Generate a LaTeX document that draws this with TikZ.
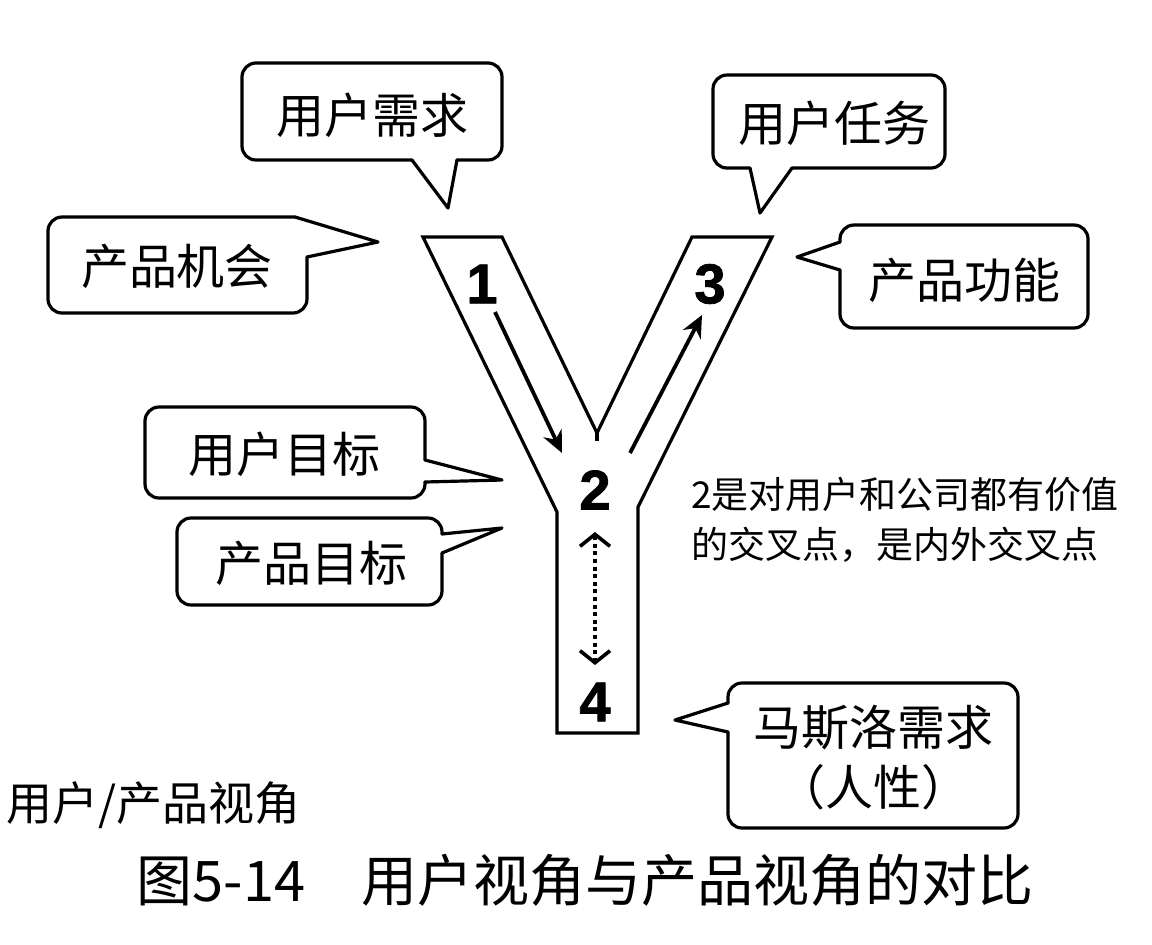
\documentclass[tikz,border=0pt]{standalone}
\usepackage{fontspec}
\setmainfont{Liberation Sans}
\newfontfamily\cjk{Noto Sans CJK SC}
\newfontfamily\numfont[FakeBold=1.5]{Liberation Sans Bold}
\usetikzlibrary{arrows.meta,calc}

\tikzset{every picture/.style={line width=1.6pt}}
\tikzset{
  bubble/.style={line width=1.6pt, line cap=round, line join=round},
  bubbletext/.style={inner sep=0.75pt, font=\cjk\fontsize{24}{30}\selectfont},
  num/.style={inner sep=0.75pt, font=\numfont\fontsize{28}{32}\selectfont},
  flow/.style={line width=1.9pt, -{Stealth[length=11pt,width=10pt]}},
  link/.style={line width=2.2pt, dash pattern=on 2pt off 1.8pt, {Straight Barb[length=6pt,width=15pt,line width=1.8pt]}-{Straight Barb[length=6pt,width=15pt,line width=1.8pt]}},
}

\begin{document}
\begin{tikzpicture}[x=0.5pt,y=0.5pt,yscale=-1,xscale=1]
\useasboundingbox (0,0) rectangle (1152,944);

%Shape: Y [id:y]
\draw [line join=miter] (423,237) -- (502,237) -- (597,433) -- (692,237) -- (772,237) -- (638,507) -- (638,733) -- (557,733) -- (557,512) -- cycle ;
\draw (597,433) -- (597,441) ;

%Shape: Callout [id:need]
\draw [bubble, rounded corners=7pt] (412,160) -- (242,160) -- (242,63) -- (502,63) -- (502,160) -- (457,160) ;
\draw [bubble] (457,160) -- (448,208) -- (412,160) ;
%Shape: Callout [id:chance]
\draw [bubble, rounded corners=7pt] (295,217) -- (48,217) -- (48,313) -- (307,313) -- (307,257) ;
\draw [bubble] (307,257) -- (378,242) -- (295,217) ;
%Shape: Callout [id:task]
\draw [bubble, rounded corners=7pt] (750,168) -- (713,168) -- (713,75) -- (945,75) -- (945,168) -- (792,168) ;
\draw [bubble] (792,168) -- (760,213) -- (750,168) ;
%Shape: Callout [id:func]
\draw [bubble, rounded corners=7pt] (840,270) -- (840,328) -- (1088,328) -- (1088,225) -- (840,225) -- (840,242) ;
\draw [bubble] (840,242) -- (797,257) -- (840,270) ;
%Shape: Callout [id:ugoal]
\draw [bubble, rounded corners=7pt] (425,460) -- (425,407) -- (145,407) -- (145,498) -- (425,498) -- (425,482) ;
\draw [bubble] (425,482) -- (502,480) -- (425,460) ;
%Shape: Callout [id:pgoal]
\draw [bubble, rounded corners=7pt] (442,553) -- (442,605) -- (177,605) -- (177,518) -- (442,518) -- (442,534) ;
\draw [bubble] (442,534) -- (502,528) -- (442,553) ;
%Shape: Callout [id:maslow]
\draw [bubble, rounded corners=7pt] (728,732) -- (728,828) -- (1018,828) -- (1018,683) -- (728,683) -- (728,703) ;
\draw [bubble] (728,703) -- (675,720) -- (728,732) ;

% Text Node
\node [bubbletext] (need) at (372,115) {用户需求};
% Text Node
\node [bubbletext] (chance) at (177,266) {产品机会};
% Text Node
\node [bubbletext] (task) at (834,123) {用户任务};
% Text Node
\node [bubbletext] (func) at (964,280) {产品功能};
% Text Node
\node [bubbletext] (ugoal) at (284,454) {用户目标};
% Text Node
\node [bubbletext] (pgoal) at (311,563) {产品目标};
% Text Node
\node [bubbletext, align=center] (maslow) at (873,758) {马斯洛需求\\（人性）};

% Text Node
\node [num] (n1) at (482,284) {1};
\node [num] (n2) at (595,490) {2};
\node [num] (n3) at (710,284) {3};
\node [num] (n4) at (595,702) {4};

%Straight Lines
\draw [flow] ($(n1)+(13,28)$) -- ($(n2)+(-33,-37)$) ;
\draw [flow] ($(n2)+(35,-37)$) -- ($(n3)+(-8,31)$) ;
\draw [link] ($(n2)+(0,42)$) -- ($(n4)+(0,-37)$) ;

% Text Node
\node [anchor=west, align=left, inner sep=0.75pt, font=\cjk\fontsize{18.5}{25}\selectfont] (remark) at (688,520) {2是对用户和公司都有价值\\的交叉点，是内外交叉点};
% Text Node
\node [anchor=west, inner sep=0.75pt, font=\cjk\fontsize{23}{28}\selectfont] (view) at (3,805) {用户/产品视角};
% Text Node
\node [inner sep=0.75pt, font=\cjk\fontsize{28}{34}\selectfont] (caption) at (585,880) {图5-14　用户视角与产品视角的对比};

\end{tikzpicture}
\end{document}
